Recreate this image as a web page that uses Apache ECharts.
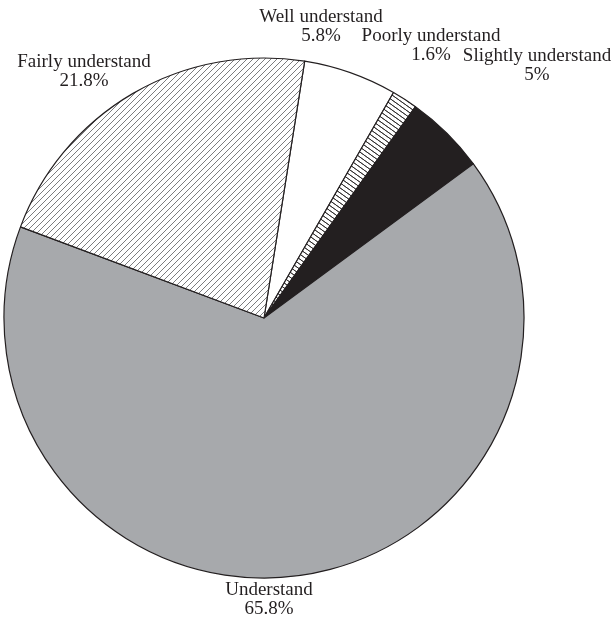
<!DOCTYPE html>
<html>
<head>
<meta charset="utf-8">
<script src="https://cdn.jsdelivr.net/npm/echarts@6/dist/echarts.min.js"></script>
<style>
html, body { margin: 0; padding: 0; background: #fff; }
#main { width: 614px; height: 625px; }
</style>
</head>
<body>
<div id="main"></div>
<script>
// 数据
var categories = ['Well understand', 'Poorly understand', 'Slightly understand', 'Understand', 'Fairly understand'];
var values = [5.8, 1.6, 5, 65.8, 21.8];
// 标签位置 (label centre, px)
var labelPos = [[321, 27], [431, 46], [537, 66], [269, 600], [84, 72]];

// 斜线填充
function hatch(size, draw) {
	var c = document.createElement('canvas');
	c.width = size[0];
	c.height = size[1];
	var ctx = c.getContext('2d');
	ctx.fillStyle = '#fff';
	ctx.fillRect(0, 0, c.width, c.height);
	draw(ctx, c.width, c.height);
	return c;
}
var diagCanvas = hatch([6, 6], function(ctx, w, h) {
	ctx.strokeStyle = '#6d6e71';
	ctx.lineWidth = 0.9;
	ctx.beginPath();
	ctx.moveTo(-1, h + 1); ctx.lineTo(w + 1, -1);
	ctx.moveTo(-1 - w, h + 1); ctx.lineTo(1, -1);
	ctx.moveTo(w - 1, h + 1); ctx.lineTo(2 * w + 1, -1);
	ctx.stroke();
});
var backCanvas = hatch([7, 5], function(ctx, w, h) {
	ctx.strokeStyle = '#231f20';
	ctx.lineWidth = 0.8;
	ctx.beginPath();
	ctx.moveTo(-w, -h); ctx.lineTo(w, h);
	ctx.moveTo(0, -h); ctx.lineTo(2 * w, h);
	ctx.moveTo(-w, 0); ctx.lineTo(w, 2 * h);
	ctx.moveTo(0, 0); ctx.lineTo(2 * w, 2 * h);
	ctx.stroke();
});

var colors = [
	'#ffffff',
	{ image: backCanvas, repeat: 'repeat' },
	'#231f20',
	'#a7a9ac',
	{ image: diagCanvas, repeat: 'repeat' }
];

var data = [];
for (var i = 0; i < categories.length; i++) {
	data.push({
		name: categories[i],
		value: values[i],
		itemStyle: { color: colors[i] }
	});
}

var myChart = echarts.init(document.getElementById('main'));
myChart.setOption({
	animation: false,
	series: [{
		type: 'pie',
		center: [264, 318],
		radius: [0, 260],
		startAngle: 81,
		clockwise: true,
		avoidLabelOverlap: false,
		data: data,
		itemStyle: {
			borderColor: '#231f20',
			borderWidth: 1.2
		},
		emphasis: { disabled: true },
		label: {
			show: true,
			position: 'outside',
			formatter: '{b}\n{c}%',
			fontFamily: 'Liberation Serif',
			fontSize: 19,
			lineHeight: 19,
			color: '#231f20',
			align: 'center'
		},
		labelLine: { show: false },
		labelLayout: function(params) {
			var p = labelPos[params.dataIndex];
			return { x: p[0], y: p[1], align: 'center', verticalAlign: 'middle' };
		}
	}]
});
</script>
</body>
</html>
